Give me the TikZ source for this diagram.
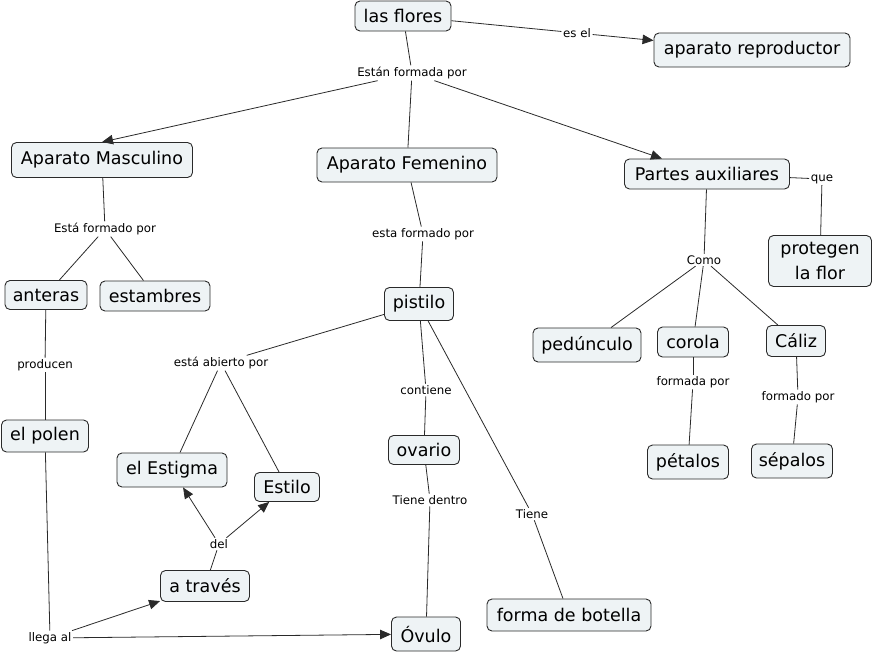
\documentclass[tikz,border=0pt]{standalone}
\usepackage{fontspec}
\setmainfont{DejaVu Sans}
\usetikzlibrary{arrows.meta}
\definecolor{boxfill}{HTML}{EEF3F5}
\definecolor{ink}{HTML}{2A2A2A}
\tikzset{
  concept/.style={draw=ink, line width=0.9pt, fill=boxfill, rounded corners=5pt,
    font=\fontsize{17.5}{19}\selectfont, text=black, inner xsep=4pt, inner ysep=3pt,
    align=center},
  lab/.style={font=\fontsize{11.8}{13}\selectfont, text=black, inner sep=1.5pt},
  conn/.style={draw=ink, line width=0.8pt},
  arr/.style={conn, -{Triangle[length=11pt,width=9.5pt]}},
}
\begin{document}
\begin{tikzpicture}[x=1pt,y=-1pt]
\useasboundingbox (0,0) rectangle (874,653);
% concepts
\node[concept, minimum width=96pt, minimum height=30pt] (flores) at (403,16) {las flores};
\node[concept, minimum width=196pt, minimum height=34pt] (repro) at (752,50) {aparato reproductor};
\node[concept, minimum width=181pt, minimum height=35pt] (masc) at (102,160) {Aparato Masculino};
\node[concept, minimum width=180pt, minimum height=34pt] (fem) at (407,165) {Aparato Femenino};
\node[concept, minimum width=165pt, minimum height=30pt] (aux) at (707,174) {Partes auxiliares};
\node[concept, minimum width=103pt, minimum height=51pt, font=\fontsize{17.5}{25}\selectfont] (prot) at (820,261) {protegen\\la flor};
\node[concept, minimum width=108pt, minimum height=34pt] (ped) at (587,345) {pedúnculo};
\node[concept, minimum width=71pt, minimum height=30pt] (corola) at (693,342) {corola};
\node[concept, minimum width=59pt, minimum height=31pt] (caliz) at (796,341) {Cáliz};
\node[concept, minimum width=81pt, minimum height=34pt] (petalos) at (688,462) {pétalos};
\node[concept, minimum width=81pt, minimum height=34pt] (sepalos) at (792,461) {sépalos};
\node[concept, minimum width=82pt, minimum height=29pt] (anteras) at (46,295) {anteras};
\node[concept, minimum width=110pt, minimum height=30pt] (estamb) at (155,296) {estambres};
\node[concept, minimum width=87pt, minimum height=32pt] (polen) at (45,436) {el polen};
\node[concept, minimum width=69pt, minimum height=33pt] (pistilo) at (419,304) {pistilo};
\node[concept, minimum width=71pt, minimum height=29pt] (ovario) at (424,450) {ovario};
\node[concept, minimum width=110pt, minimum height=34pt] (estigma) at (172,470) {el Estigma};
\node[concept, minimum width=65pt, minimum height=29pt] (estilo) at (287,487) {Estilo};
\node[concept, minimum width=89pt, minimum height=31pt] (traves) at (205,586) {a través};
\node[concept, minimum width=69pt, minimum height=34pt] (ovulo) at (426,634) {Óvulo};
\node[concept, minimum width=164pt, minimum height=32pt] (botella) at (569,615) {forma de botella};
% linking phrases
\node[lab] (esel) at (577,33) {es el};
\node[lab] (formada) at (412,73) {Están formada por};
\node[lab] (que) at (822,179) {que};
\node[lab] (como) at (704,260) {Como};
\node[lab] (formadap) at (693,382) {formada por};
\node[lab] (formadoc) at (798,397) {formado por};
\node[lab] (formadom) at (105,229) {Está formado por};
\node[lab] (producen) at (45,365) {producen};
\node[lab] (estaform) at (423,234) {esta formado por};
\node[lab] (abierto) at (221,363) {está abierto por};
\node[lab] (contiene) at (426,390) {contiene};
\node[lab] (dentro) at (430,500) {Tiene dentro};
\node[lab] (tiene) at (532,514) {Tiene};
\node[lab] (del) at (219,544) {del};
\node[lab] (llega) at (50,638) {llega al};
% connectors
\draw[conn] (flores) -- (esel);
\draw[arr] (esel) -- (repro);
\draw[conn] (flores) -- (formada);
\draw[arr] (formada) -- (masc.north);
\draw[conn] (formada) -- (fem);
\draw[arr] (formada) -- (aux);
\draw[conn] (masc) -- (formadom);
\draw[conn] (formadom) -- (anteras);
\draw[conn] (formadom) -- (estamb);
\draw[conn] (anteras) -- (producen);
\draw[conn] (producen) -- (polen);
\draw[conn] (polen) -- (llega);
\draw[arr] (llega) -- (traves);
\draw[arr] (llega) -- (ovulo);
\draw[conn] (traves) -- (del);
\draw[arr] (del) -- (estigma);
\draw[arr] (del) -- (estilo);
\draw[conn] (fem) -- (estaform);
\draw[conn] (estaform) -- (pistilo);
\draw[conn] (pistilo) -- (abierto);
\draw[conn] (abierto) -- (estigma);
\draw[conn] (abierto) -- (estilo);
\draw[conn] (pistilo) -- (contiene);
\draw[conn] (contiene) -- (ovario);
\draw[conn] (ovario) -- (dentro);
\draw[conn] (dentro) -- (ovulo);
\draw[conn] (pistilo) -- (tiene);
\draw[conn] (tiene) -- (botella);
\draw[conn] (aux) -- (que);
\draw[conn] (que) -- (prot);
\draw[conn] (aux) -- (como);
\draw[conn] (como) -- (ped);
\draw[conn] (como) -- (corola);
\draw[conn] (como) -- (caliz);
\draw[conn] (corola) -- (formadap);
\draw[conn] (formadap) -- (petalos);
\draw[conn] (caliz) -- (formadoc);
\draw[conn] (formadoc) -- (sepalos);
\end{tikzpicture}
\end{document}
